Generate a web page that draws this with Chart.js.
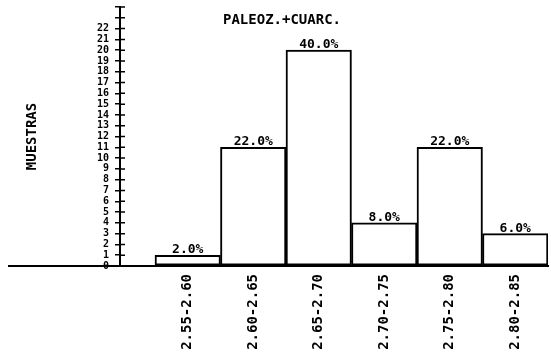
<!DOCTYPE html>
<html lang="es">
<head>
<meta charset="UTF-8">
<title>Paleoz.+Cuarc.</title>
<script src="https://cdn.jsdelivr.net/npm/chart.js"></script>
<style>
body { margin: 0; background: #fff; }
#wrap { width: 551px; height: 360px; }
</style>
</head>
<body>
<div id="wrap"><canvas id="histo" width="551" height="360"></canvas></div>
<script>
// clases de densidad y numero de muestras
const classes = ['2.55-2.60', '2.60-2.65', '2.65-2.70', '2.70-2.75', '2.75-2.80', '2.80-2.85'];
const classMid = [2.575, 2.625, 2.675, 2.725, 2.775, 2.825];
const samples = [1, 11, 20, 4, 11, 3];
const yMax = 24;
const yLastLabel = 22;
const chartTitle = 'PALEOZ.+CUARC.';

const total = samples.reduce((a, b) => a + b, 0);
const pct = samples.map(n => (n / total * 100).toFixed(1) + '%');

const mono = 'DejaVu Sans Mono';

const decor = {
    id: 'decor',
    afterDraw(chart) {
        const { ctx, chartArea, scales } = chart;
        const y0 = scales.y.getPixelForValue(0);
        ctx.save();
        ctx.strokeStyle = '#000';
        // baseline continues left of the y axis
        ctx.lineWidth = 2;
        ctx.beginPath();
        ctx.moveTo(8, y0);
        ctx.lineTo(chartArea.left, y0);
        ctx.stroke();
        // ticks cross the axis
        ctx.lineWidth = 1.5;
        ctx.beginPath();
        scales.y.ticks.forEach(t => {
            const py = scales.y.getPixelForValue(t.value);
            ctx.moveTo(chartArea.left, py);
            ctx.lineTo(chartArea.left + 5, py);
        });
        ctx.stroke();
        // percent over each bar
        ctx.fillStyle = '#000';
        ctx.font = 'bold 13px ' + mono;
        ctx.textAlign = 'center';
        ctx.textBaseline = 'bottom';
        chart.getDatasetMeta(0).data.forEach((bar, i) => {
            ctx.fillText(pct[i], bar.x, bar.y + 1);
        });
        // title
        ctx.font = 'bold 14px ' + mono;
        ctx.textBaseline = 'middle';
        ctx.fillText(chartTitle, 282, 20);
        ctx.restore();
    }
};

new Chart(document.getElementById('histo'), {
    type: 'bar',
    data: {
        datasets: [{
            data: classMid.map((x, i) => ({ x: x, y: samples[i] })),
            backgroundColor: '#fff',
            borderColor: '#000',
            borderWidth: 2,
            borderSkipped: false,
            barPercentage: 1,
            categoryPercentage: 1
        }]
    },
    options: {
        responsive: false,
        animation: false,
        layout: { padding: { top: 7, right: 3, left: 0, bottom: 0 } },
        plugins: { legend: { display: false }, tooltip: { enabled: false } },
        scales: {
            x: {
                type: 'linear',
                min: 2.5233,
                max: 2.85,
                offset: false,
                grid: { display: false, drawTicks: false },
                border: { display: true, color: '#000', width: 2 },
                afterBuildTicks: s => { s.ticks = classMid.map(v => ({ value: v })); },
                afterFit: s => { s.height = 94; s.paddingLeft = 0; s.paddingRight = 0; },
                ticks: {
                    autoSkip: false,
                    minRotation: 90,
                    maxRotation: 90,
                    padding: 8,
                    color: '#000',
                    font: { family: mono, size: 14, weight: 'bold' },
                    callback: (v, i) => classes[i]
                }
            },
            y: {
                min: 0,
                max: yMax,
                afterFit: s => { s.width = 120; s.paddingTop = 0; s.paddingBottom = 0; },
                grid: { drawOnChartArea: false, tickLength: 5, color: '#000', lineWidth: 1.5 },
                border: { display: true, color: '#000', width: 2 },
                ticks: {
                    stepSize: 1,
                    autoSkip: false,
                    padding: 6,
                    color: '#000',
                    font: { family: mono, size: 10, weight: 'bold' },
                    callback: v => v <= yLastLabel ? v : ''
                },
                title: {
                    display: true,
                    text: 'MUESTRAS',
                    color: '#000',
                    padding: { top: 24, bottom: 0 },
                    font: { family: mono, size: 14, weight: 'bold' }
                }
            }
        }
    },
    plugins: [decor]
});
</script>
</body>
</html>
